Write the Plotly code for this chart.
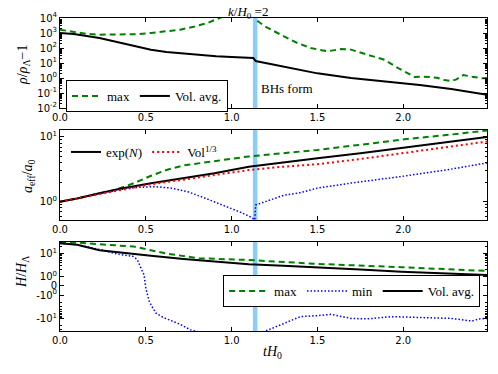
import numpy as np
import plotly.graph_objects as go

bh_time = 1.137
x_ticks = [0.0, 0.5, 1.0, 1.5, 2.0]
x_ticktext = ["0.0", "0.5", "1.0", "1.5", "2.0"]

# ---- Panel 1: rho/rho_Lambda - 1 ----
rho_max_t = [0, 0.08, 0.15, 0.23, 0.35, 0.45, 0.53, 0.62, 0.70, 0.78, 0.86, 0.93, 1.0, 1.08, 1.13,
             1.145, 1.2, 1.305, 1.38, 1.46, 1.558, 1.636, 1.695, 1.79, 1.89, 1.968, 2.027, 2.066,
             2.12, 2.196, 2.24, 2.28, 2.31, 2.35, 2.40, 2.46, 2.488]
rho_max = [1660, 1120, 890, 776, 759, 832, 1000, 1260, 1660, 2630, 4680, 10000, 20000, 31600, 39800,
           7080, 2510, 603, 224, 100, 60, 85, 78, 36, 16.6, 4.7, 2.1, 1.17,
           1.23, 1.05, 0.74, 0.63, 0.81, 1.58, 1.23, 0.95, 1.0]
rho_avg_t = [0, 0.08, 0.23, 0.33, 0.43, 0.53, 0.62, 0.72, 0.816, 0.91, 1.0, 1.127,
             1.14, 1.2, 1.305, 1.4, 1.5, 1.695, 1.89, 2.096, 2.28, 2.488]
rho_avg = [1000, 850, 468, 251, 129, 77.6, 53.7, 41.7, 33, 28.2, 25, 21.4,
           13.5, 10, 5.9, 3.5, 2.04, 1.0, 0.6, 0.34, 0.186, 0.076]

# ---- Panel 2: a_eff / a_0 ----
a_exp_t = [0, 0.1, 0.23, 0.35, 0.53, 0.72, 0.9, 1.1, 1.3, 1.5, 1.75, 1.99, 2.25, 2.488]
a_exp = [1.0, 1.12, 1.35, 1.58, 1.93, 2.29, 2.75, 3.47, 3.98, 4.68, 5.62, 6.76, 8.32, 10.0]
a_vol_t = [0, 0.1, 0.23, 0.53, 0.72, 0.9, 1.1, 1.3, 1.5, 1.75, 1.99, 2.25, 2.488]
a_vol = [1.0, 1.12, 1.33, 1.86, 2.19, 2.6, 3.09, 3.47, 3.80, 4.57, 5.62, 6.92, 8.5]
a_max_t = [0, 0.1, 0.23, 0.32, 0.43, 0.52, 0.62, 0.72, 0.91, 1.1, 1.3, 1.5, 1.75, 1.99, 2.25, 2.488]
a_max = [1.0, 1.12, 1.35, 1.51, 1.93, 2.45, 3.09, 3.63, 4.27, 5.01, 5.62, 6.31, 7.59, 9.12, 10.7, 12.6]
a_min_t = [0, 0.1, 0.23, 0.35, 0.45, 0.55, 0.65, 0.75, 0.85, 0.95, 1.05, 1.105, 1.135,
           1.14, 1.2, 1.305, 1.4, 1.5, 1.7, 1.99, 2.25, 2.488]
a_min = [1.0, 1.12, 1.35, 1.55, 1.66, 1.71, 1.62, 1.41, 1.12, 0.89, 0.69, 0.59, 0.525,
         0.89, 1.0, 1.26, 1.38, 1.62, 1.95, 2.45, 3.09, 3.98]

# ---- Panel 3: H / H_Lambda (symlog) ----
h_avg_t = [0, 0.1, 0.23, 0.35, 0.53, 0.72, 0.9, 1.1, 1.3, 1.5, 1.75, 1.99, 2.25, 2.488]
h_avg = [28, 24, 14, 11, 8.1, 5.9, 4.5, 3.5, 3.0, 2.6, 2.1, 1.67, 1.4, 1.2]
h_max_t = [0, 0.1, 0.23, 0.43, 0.62, 0.81, 1.1, 1.5, 1.99, 2.488]
h_max = [31, 30, 25, 20, 10, 6.3, 5.3, 3.6, 2.6, 1.8]
h_min_t = [0, 0.1, 0.18, 0.25, 0.32, 0.38, 0.43, 0.45, 0.46, 0.48, 0.49, 0.50, 0.51, 0.52,
           0.54, 0.56, 0.6, 0.64, 0.7, 0.76, 0.85, 1.0, 1.15, 1.22, 1.305, 1.4, 1.5, 1.58,
           1.695, 1.79, 1.93, 2.085, 2.28, 2.4, 2.44, 2.488]
h_min = [27, 24, 18, 14, 10, 8.5, 7.4, 5.5, 3.8, 2.0, 1.2, -0.25, -1.0, -1.9,
         -3.5, -6, -9, -11.7, -18, -31, -45, -55, -45, -30, -16, -8.4, -7.6, -6.7,
         -10, -10.5, -8.4, -9, -10, -13, -10.5, -10]

LIN = 0.39  # half-width of the linear region in decades


def symlog(v):
    v = np.asarray(v, dtype=float)
    out = np.where(np.abs(v) >= 1, np.sign(v) * (np.log10(np.maximum(np.abs(v), 1e-12)) + LIN), LIN * v)
    return out


GREEN = "#008000"
BLUE = "#0000FF"
RED = "#FF0000"
SKY = "#87CEFA"
TICKFONT = dict(family="DejaVu Sans", size=10, color="black")
SERIF = "Liberation Serif"

fig = go.Figure()

# Panel 1
fig.add_trace(go.Scatter(x=rho_max_t, y=rho_max, mode="lines", name="max",
                         line=dict(color=GREEN, width=2, dash="6px,4px"),
                         xaxis="x", yaxis="y", legend="legend"))
fig.add_trace(go.Scatter(x=rho_avg_t, y=rho_avg, mode="lines", name="Vol. avg.",
                         line=dict(color="black", width=2),
                         xaxis="x", yaxis="y", legend="legend"))

# Panel 2
fig.add_trace(go.Scatter(x=a_max_t, y=a_max, mode="lines", name="max", showlegend=False,
                         line=dict(color=GREEN, width=2, dash="6px,4px"),
                         xaxis="x2", yaxis="y2", legend="legend2"))
fig.add_trace(go.Scatter(x=a_min_t, y=a_min, mode="lines", name="min", showlegend=False,
                         line=dict(color=BLUE, width=1.5, dash="1.5px,2px"),
                         xaxis="x2", yaxis="y2", legend="legend2"))
fig.add_trace(go.Scatter(x=a_exp_t, y=a_exp, mode="lines", name="exp(<i>N</i>)",
                         line=dict(color="black", width=2),
                         xaxis="x2", yaxis="y2", legend="legend2"))
fig.add_trace(go.Scatter(x=a_vol_t, y=a_vol, mode="lines", name="Vol<sup>1/3</sup>",
                         line=dict(color=RED, width=2, dash="2px,3px"),
                         xaxis="x2", yaxis="y2", legend="legend2"))

# Panel 3
fig.add_trace(go.Scatter(x=h_max_t, y=symlog(h_max), mode="lines", name="max",
                         line=dict(color=GREEN, width=2, dash="6px,4px"),
                         xaxis="x3", yaxis="y3", legend="legend3"))
fig.add_trace(go.Scatter(x=h_min_t, y=symlog(h_min), mode="lines", name="min",
                         line=dict(color=BLUE, width=1.5, dash="1.5px,2px"),
                         xaxis="x3", yaxis="y3", legend="legend3"))
fig.add_trace(go.Scatter(x=h_avg_t, y=symlog(h_avg), mode="lines", name="Vol. avg.",
                         line=dict(color="black", width=2),
                         xaxis="x3", yaxis="y3", legend="legend3"))

XR = [0, 2.488]


def xaxis(anchor):
    return dict(anchor=anchor, domain=[0, 1], range=XR, tickmode="array", tickvals=x_ticks,
                ticktext=x_ticktext, ticks="inside", ticklen=4, tickcolor="black",
                showline=True, linecolor="black", linewidth=1, mirror="allticks",
                showgrid=False, zeroline=False, tickfont=TICKFONT)


def yaxis(anchor, domain, **kw):
    d = dict(anchor=anchor, domain=domain, ticks="inside", ticklen=4, tickcolor="black",
             showline=True, linecolor="black", linewidth=1, mirror="allticks",
             showgrid=False, zeroline=False, tickfont=TICKFONT)
    d.update(kw)
    return d


def sup(e):
    return "10<sup>%s</sup>" % e


p1_major = [10.0 ** e for e in range(-2, 5)]
p1_minor = [m * 10.0 ** e for e in range(-2, 4) for m in range(2, 10)]
p2_minor = [m * 10.0 ** e for e in range(-1, 2) for m in range(2, 10)]
p3_minor_vals = [m * 10.0 ** e * s for s in (1, -1) for e in (0, 1) for m in range(2, 10)]
p3_minor = [float(v) for v in symlog(p3_minor_vals)]

# the page body keeps an 8px margin; the figure is sized so it fits the 498x374 window
OFF = 8
W, H = 498 - 2 * OFF, 374 - 2 * OFF
PL, PR, PT, PB = 60, 486.7, 18, 331     # plot area in window pixels
PW, PH = PR - PL, PB - PT


def dom(y_top, y_bot):
    return [(PB - y_bot) / PH, (PB - y_top) / PH]


def px(xw):
    return (xw - PL) / PW


def py(yw):
    return (PB - yw) / PH


fig.update_layout(
    width=W, height=H,
    margin=dict(l=PL - OFF, r=W - (PR - OFF), t=PT - OFF, b=H - (PB - OFF), pad=0),
    paper_bgcolor="white", plot_bgcolor="white",
    xaxis=xaxis("y"), xaxis2=xaxis("y2"), xaxis3=xaxis("y3"),
    yaxis=yaxis("x", dom(18, 108), type="log", range=[-2, 4], tickmode="array",
                tickvals=p1_major, ticktext=[sup(e) for e in ["-2", "-1", "0", "1", "2", "3", "4"]],
                minor=dict(tickmode="array", tickvals=p1_minor, ticks="inside", ticklen=2,
                           tickcolor="black")),
    yaxis2=yaxis("x2", dom(130, 220), type="log", range=[-0.283, 1.108], tickmode="array",
                 tickvals=[1, 10], ticktext=[sup("0"), sup("1")],
                 minor=dict(tickmode="array", tickvals=p2_minor, ticks="inside", ticklen=2,
                            tickcolor="black")),
    yaxis3=yaxis("x3", dom(242, 331), range=[-1.93, 1.886], tickmode="array",
                 tickvals=[float(v) for v in symlog([10, 1, 0, -1, -10])],
                 ticktext=[sup("1"), sup("0"), "0", "-" + sup("0"), "-" + sup("1")],
                 minor=dict(tickmode="array", tickvals=p3_minor, ticks="inside", ticklen=2,
                            tickcolor="black")),
    legend=dict(x=px(66), y=py(80), xanchor="left", yanchor="top",
                orientation="h", bordercolor="black", borderwidth=1, bgcolor="white",
                font=dict(family=SERIF, size=13, color="black")),
    legend2=dict(x=px(66), y=py(137), xanchor="left", yanchor="top",
                 orientation="h", borderwidth=0, bgcolor="rgba(0,0,0,0)",
                 font=dict(family=SERIF, size=13, color="black")),
    legend3=dict(x=px(223), y=py(275), xanchor="left", yanchor="top",
                 orientation="h", bordercolor="black", borderwidth=1, bgcolor="white",
                 itemwidth=40,
                 font=dict(family=SERIF, size=13, color="black")),
    showlegend=True,
)

for xr, yr in (("x", "y domain"), ("x2", "y2 domain"), ("x3", "y3 domain")):
    fig.add_shape(type="line", xref=xr, yref=yr, x0=bh_time, x1=bh_time, y0=0, y1=1,
                  line=dict(color=SKY, width=4.5), layer="below")

ann = []
ann.append(dict(text="<i>k</i>/<i>H</i><sub>0</sub> =2", xref="paper", yref="paper",
                x=px(248), y=py(12.5), yanchor="middle", showarrow=False,
                font=dict(family=SERIF, size=13, color="black")))
ann.append(dict(text="BHs form", xref="x", yref="y", x=bh_time + 0.02,
                y=-0.73, xanchor="left", yanchor="middle", showarrow=False,
                font=dict(family=SERIF, size=13, color="black")))
ann.append(dict(text="<i>ρ</i>/<i>ρ</i><sub>Λ</sub>−1", xref="paper", yref="paper",
                x=px(24), y=py(65), textangle=-90, showarrow=False,
                xanchor="center", yanchor="middle",
                font=dict(family=SERIF, size=14, color="black")))
ann.append(dict(text="<i>a</i><sub>eff</sub>/<i>a</i><sub>0</sub>", xref="paper", yref="paper",
                x=px(28), y=py(176), textangle=-90, showarrow=False,
                xanchor="center", yanchor="middle",
                font=dict(family=SERIF, size=14, color="black")))
ann.append(dict(text="<i>H</i>/<i>H</i><sub>Λ</sub>", xref="paper", yref="paper",
                x=px(22), y=py(272), textangle=-90, showarrow=False,
                xanchor="center", yanchor="middle",
                font=dict(family=SERIF, size=14, color="black")))
ann.append(dict(text="<i>tH</i><sub>0</sub>", xref="paper", yref="paper",
                x=px(272), y=py(352), showarrow=False,
                xanchor="center", yanchor="middle",
                font=dict(family=SERIF, size=14, color="black")))
fig.update_layout(annotations=ann)

fig.write_html("out.html")
